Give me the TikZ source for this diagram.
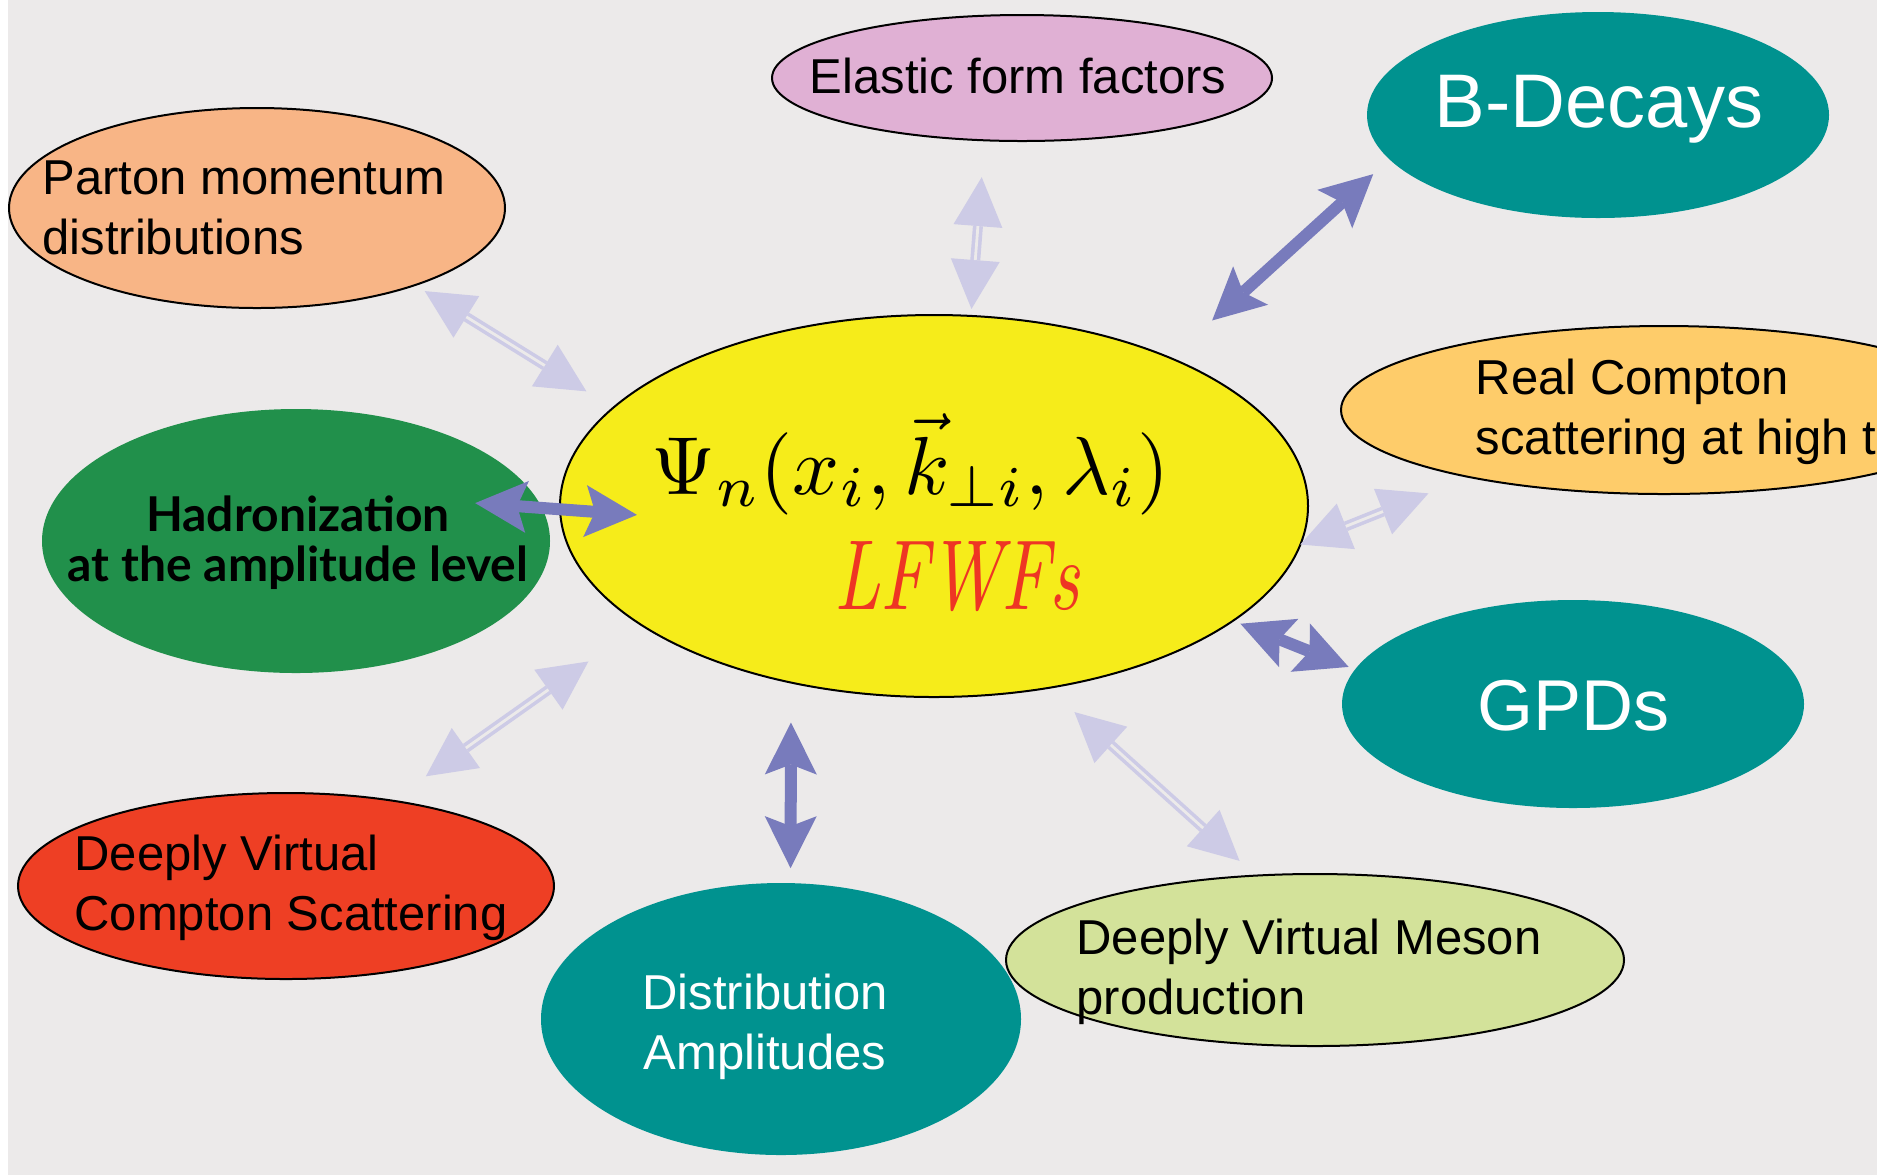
\documentclass[tikz,border=0pt]{standalone}
\usepackage{fontspec}
\newfontfamily\arial{Liberation Sans}
\newfontfamily\gill{Lato}
\usetikzlibrary{arrows.meta,shapes.geometric,positioning}
\definecolor{hatter}{HTML}{ECEAEA}
\definecolor{sarga}{HTML}{F6EC1A}
\definecolor{rozsa}{HTML}{E0B0D4}
\definecolor{turkiz}{HTML}{00928F}
\definecolor{barack}{HTML}{F8B586}
\definecolor{narancs}{HTML}{FECC6A}
\definecolor{zold}{HTML}{21904B}
\definecolor{voros}{HTML}{EE3F24}
\definecolor{pisztacia}{HTML}{D3E29A}
\definecolor{sotet}{HTML}{787BBC}
\definecolor{halvany}{HTML}{CDCBE6}
\definecolor{piros}{HTML}{EE3524}
\tikzset{
  tojas/.style={ellipse,draw=black,line width=1pt,inner sep=0pt,outer sep=0pt},
  kek/.style={ellipse,fill=turkiz,inner sep=0pt,outer sep=0pt},
  felirat/.style={inner sep=0pt,align=left,font=\arial\fontsize{24.5}{30}\selectfont},
  fehfelirat/.style={inner sep=0pt,align=center,text=white,font=\arial\fontsize{36}{40}\selectfont},
  snyil/.style={draw=sotet,line width=6pt,
                {Stealth[length=26pt,width=26pt,inset=5pt,line width=0pt]}-{Stealth[length=26pt,width=26pt,inset=5pt,line width=0pt]}},
  hnyil/.style={draw=halvany,line width=5pt,
                {Triangle[length=24.5pt,width=24.5pt,line width=0pt]}-{Triangle[length=24.5pt,width=24.5pt,line width=0pt]}},
  res/.style={draw=hatter,line width=1.4pt},
}
\begin{document}
\begin{tikzpicture}[x=0.5pt,y=-0.5pt]
  \useasboundingbox (0,0) rectangle (1877,1175);
  \clip (0,0) rectangle (1877,1175);
  \fill[white] (0,0) rectangle (1877,1175);
  \fill[hatter] (8,0) rectangle (1877,1175);
  % central wave function
  \node[tojas,fill=sarga,minimum width=374pt,minimum height=191pt] (lfwf) at (934,506) {};
  \node (formel) at (911,464) {\resizebox{259pt}{!}{$\Psi_n(x_i,\vec{k}_{\perp i},\lambda_i)$}};
  \node[text=piros] (lfwfs) at (957,577) {\resizebox{123pt}{34pt}{\itshape LFWFs}};
  % surrounding processes
  \node[tojas,fill=rozsa,minimum width=250pt,minimum height=63pt] (elastic) at (1022,78) {};
  \node[felirat] (elastic-t) at (1018,76) {Elastic form factors};
  \node[kek,minimum width=231pt,minimum height=103pt] (bdec) at (1598,115) {};
  \node[fehfelirat,font=\arial\fontsize{38}{40}\selectfont] (bdec-t) at (1599,109) {B-Decays};
  \node[tojas,fill=barack,minimum width=248pt,minimum height=100pt] (parton) at (257,208) {};
  \node[felirat] (parton-t) at (244,208) {Parton momentum\\distributions};
  \node[tojas,fill=narancs,minimum width=323pt,minimum height=84pt] (rcs) at (1664,410) {};
  \node[felirat] (rcs-t) at (1676,412) {Real Compton\\scattering at high t};
  \node[ellipse,fill=zold,inner sep=0pt,outer sep=0pt,minimum width=254pt,minimum height=132pt] (had) at (296,541) {};
  \node[inner sep=0pt,align=center,font=\gill\bfseries\fontsize{24}{25}\selectfont] (had-t) at (298,543) {Hadronization\\at the amplitude level};
  \node[kek,minimum width=231pt,minimum height=104pt] (gpd) at (1573,704) {};
  \node[fehfelirat] (gpd-t) at (1573,706) {GPDs};
  \node[tojas,fill=voros,minimum width=268pt,minimum height=93pt] (dvcs) at (286,886) {};
  \node[felirat] (dvcs-t) at (291,888) {Deeply Virtual\\Compton Scattering};
  \node[kek,minimum width=240pt,minimum height=136pt] (da) at (781,1019) {};
  \node[fehfelirat,font=\arial\fontsize{24.5}{30}\selectfont] (da-t) at (765,1027) {Distribution\\Amplitudes};
  \node[tojas,fill=pisztacia,minimum width=309pt,minimum height=86pt] (dvmp) at (1315,960) {};
  \node[felirat] (dvmp-t) at (1309,972) {Deeply Virtual Meson\\production};
  % faint double arrows
  \draw[hnyil,shorten <=5.7pt,shorten >=15.7pt] (parton.-26) -- (lfwf.163);
  \draw[res,shorten <=30.2pt,shorten >=40.2pt] (parton.-26) -- (lfwf.163);
  \draw[hnyil,shorten <=18.5pt,shorten >=3.5pt] (elastic.-121) -- (lfwf.79);
  \draw[res,shorten <=43pt,shorten >=28pt] (elastic.-121) -- (lfwf.79);
  \draw[hnyil,shorten <=22pt,shorten >=0pt] (rcs.199) -- (lfwf.-6);
  \draw[res,shorten <=46.5pt,shorten >=24.5pt] (rcs.199) -- (lfwf.-6);
  \draw[hnyil,shorten <=11pt,shorten >=18pt] (dvmp.125) -- (lfwf.-58);
  \draw[res,shorten <=35.5pt,shorten >=42.5pt] (dvmp.125) -- (lfwf.-58);
  \draw[hnyil,shorten <=21pt,shorten >=32pt] (dvcs.39) -- (lfwf.202);
  \draw[res,shorten <=45.5pt,shorten >=56.5pt] (dvcs.39) -- (lfwf.202);
  % strong arrows
  \draw[snyil,shorten <=11pt,shorten >=28pt] (bdec.192) -- (lfwf.32);
  \draw[snyil,shorten <=3.5pt,shorten >=4pt] (gpd.171) -- (lfwf.-21);
  \draw[snyil,shorten <=7.5pt,shorten >=20pt] (da.86) -- (lfwf.-129);
  \draw[snyil,shorten <=199.6pt,shorten >=328pt] (had.163) -- (lfwf.-9);
\end{tikzpicture}
\end{document}
